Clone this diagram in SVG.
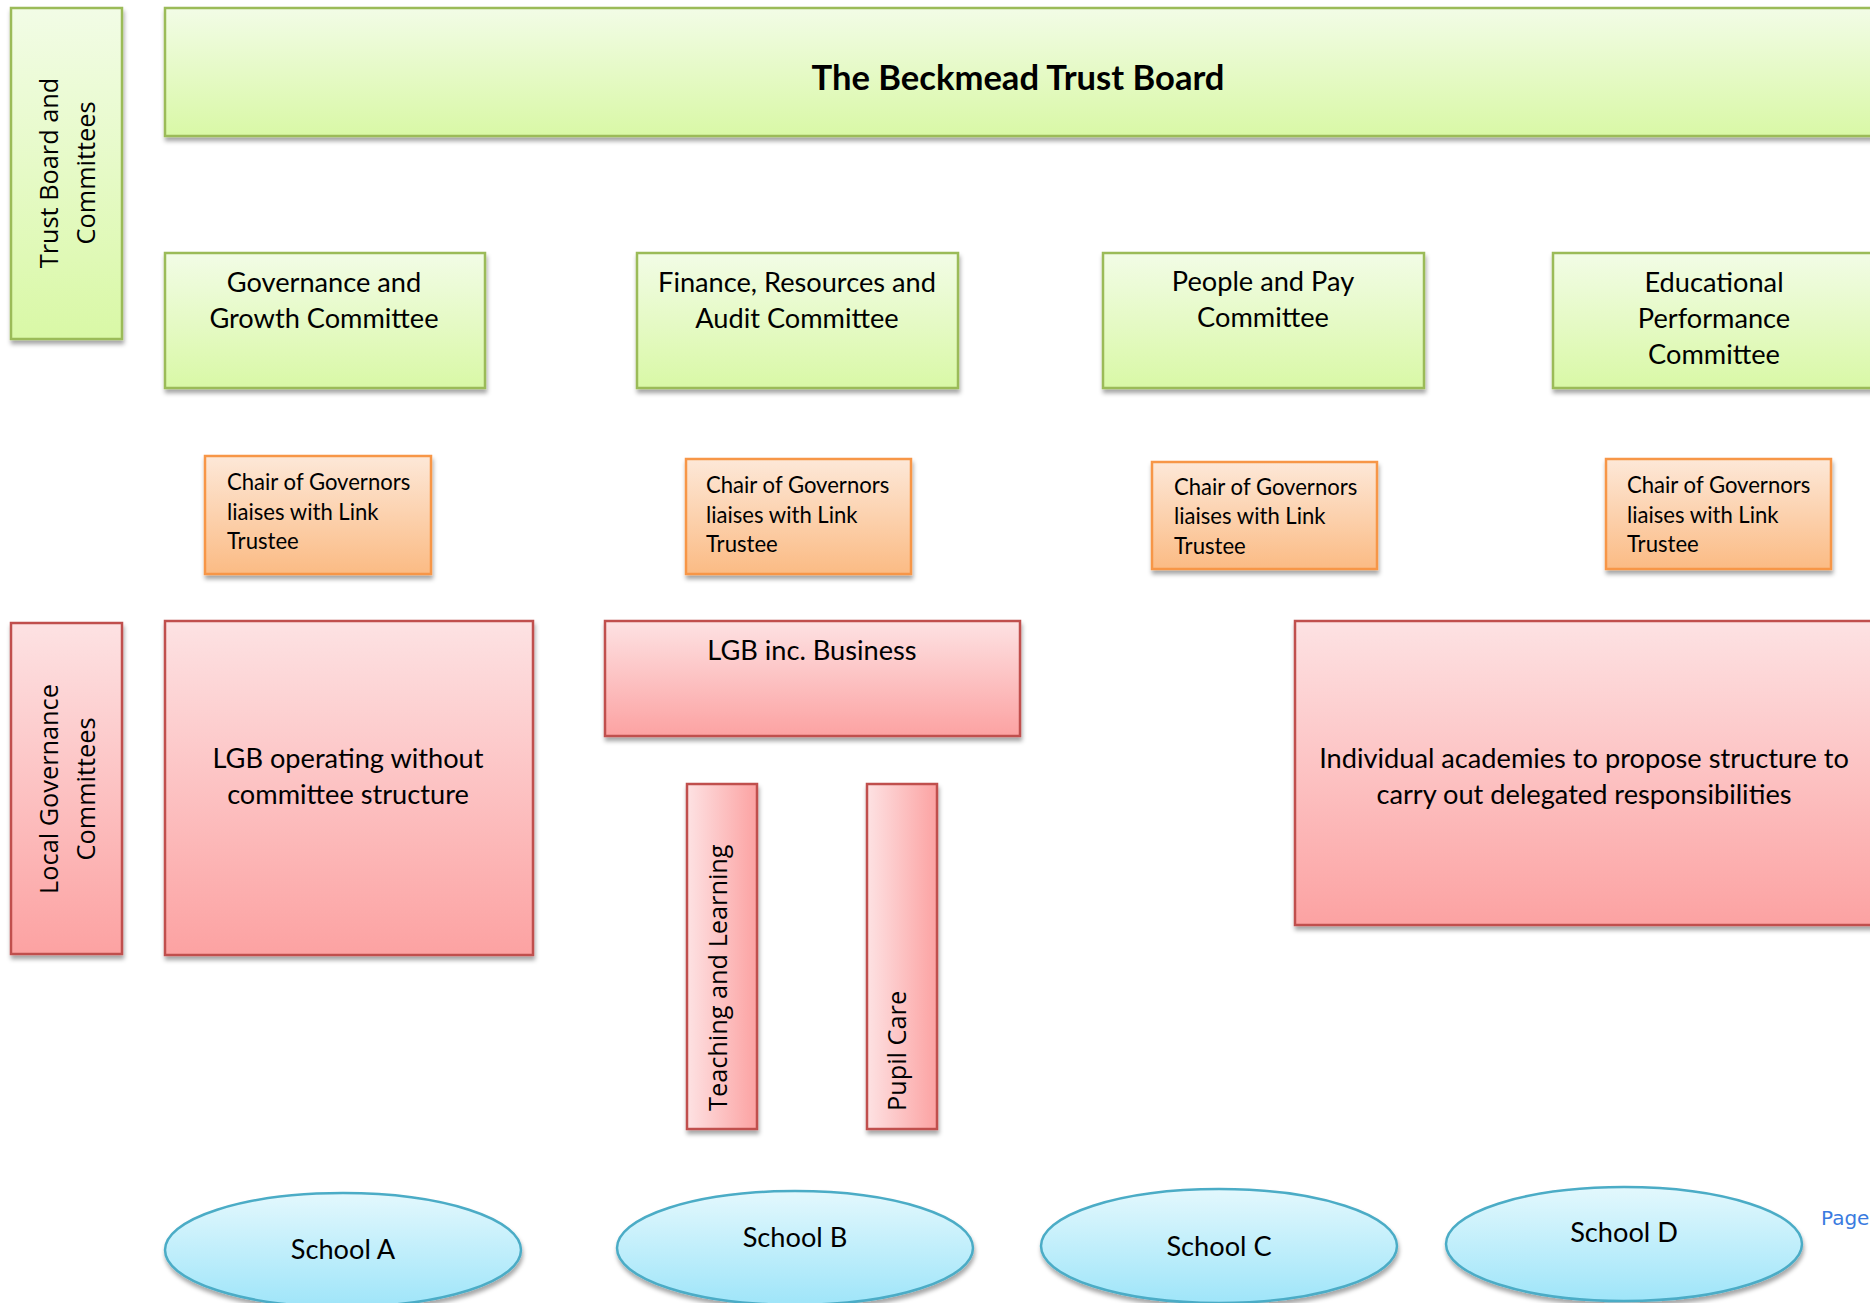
<svg xmlns="http://www.w3.org/2000/svg" width="1870" height="1303" viewBox="0 0 1870 1303">
<defs>
  <linearGradient id="gGreen" x1="0" y1="0" x2="0" y2="1">
    <stop offset="0" stop-color="#f2fce6"/><stop offset="1" stop-color="#d9f8a6"/>
  </linearGradient>
  <linearGradient id="gOrange" x1="0" y1="0" x2="0" y2="1">
    <stop offset="0" stop-color="#fde8d8"/><stop offset="1" stop-color="#fbbb84"/>
  </linearGradient>
  <linearGradient id="gPink" x1="0" y1="0" x2="0" y2="1">
    <stop offset="0" stop-color="#fde2e3"/><stop offset="1" stop-color="#fca2a2"/>
  </linearGradient>
  <linearGradient id="gPinkH" x1="0" y1="0" x2="1" y2="0">
    <stop offset="0" stop-color="#fde2e3"/><stop offset="1" stop-color="#fca2a2"/>
  </linearGradient>
  <linearGradient id="gBlue" x1="0" y1="0" x2="0" y2="1">
    <stop offset="0" stop-color="#e3f8fd"/><stop offset="1" stop-color="#9fe5f9"/>
  </linearGradient>
  <filter id="sh" x="-10%" y="-10%" width="120%" height="130%">
    <feDropShadow dx="1" dy="4" stdDeviation="2" flood-color="#000" flood-opacity="0.35"/>
  </filter>
</defs>
<style>
  .green{fill:url(#gGreen);stroke:#9bbb59;stroke-width:2.5}
  .orange{fill:url(#gOrange);stroke:#f79646;stroke-width:2.5}
  .pink{fill:url(#gPink);stroke:#c0504d;stroke-width:2.5}
  .pinkh{fill:url(#gPinkH);stroke:#c0504d;stroke-width:2.5}
  .blue{fill:url(#gBlue);stroke:#4bacc6;stroke-width:2.5}
  .t{font-family:Lato,"Liberation Sans",sans-serif;font-size:27.2px;fill:#000;text-anchor:middle}
  .s{font-family:Lato,"Liberation Sans",sans-serif;font-size:22.1px;fill:#000}
  .v{font-family:"Open Sans","DejaVu Sans",sans-serif;font-size:25.3px;fill:#000;text-anchor:middle}
  .b{font-family:Lato,"Liberation Sans",sans-serif;font-size:34.6px;font-weight:bold;fill:#000;text-anchor:middle}
</style>
<rect width="1870" height="1303" fill="#fff"/>

<g id="label-trust">
  <rect class="green" x="11" y="8" width="111" height="331" filter="url(#sh)"/>
  <text class="v" transform="translate(58,173) rotate(-90)">Trust Board and</text>
  <text class="v" transform="translate(95,173) rotate(-90)">Committees</text>
</g>
<g id="board">
  <rect class="green" x="165" y="8" width="1720" height="128" filter="url(#sh)"/>
  <text class="b" x="1018" y="90">The Beckmead Trust Board</text>
</g>

<g id="c-governance">
  <rect class="green" x="165" y="253" width="320" height="135" filter="url(#sh)"/>
  <text class="t" x="324" y="292">Governance and</text>
  <text class="t" x="324" y="328">Growth Committee</text>
</g>
<g id="c-finance">
  <rect class="green" x="637" y="253" width="321" height="135" filter="url(#sh)"/>
  <text class="t" x="797" y="292">Finance, Resources and</text>
  <text class="t" x="797" y="328">Audit Committee</text>
</g>
<g id="c-people">
  <rect class="green" x="1103" y="253" width="321" height="135" filter="url(#sh)"/>
  <text class="t" x="1263" y="291">People and Pay</text>
  <text class="t" x="1263" y="327">Committee</text>
</g>
<g id="c-education">
  <rect class="green" x="1553" y="253" width="330" height="135" filter="url(#sh)"/>
  <text class="t" x="1714" y="292">Educational</text>
  <text class="t" x="1714" y="328">Performance</text>
  <text class="t" x="1714" y="364">Committee</text>
</g>

<g id="chair-1">
  <rect class="orange" x="205" y="456" width="226" height="118" filter="url(#sh)"/>
  <text class="s" x="227" y="490">Chair of Governors</text>
  <text class="s" x="227" y="520">liaises with Link</text>
  <text class="s" x="227" y="549">Trustee</text>
</g>
<g id="chair-2">
  <rect class="orange" x="686" y="459" width="225" height="115" filter="url(#sh)"/>
  <text class="s" x="706" y="493">Chair of Governors</text>
  <text class="s" x="706" y="523">liaises with Link</text>
  <text class="s" x="706" y="552">Trustee</text>
</g>
<g id="chair-3">
  <rect class="orange" x="1152" y="462" width="225" height="107" filter="url(#sh)"/>
  <text class="s" x="1174" y="495">Chair of Governors</text>
  <text class="s" x="1174" y="524">liaises with Link</text>
  <text class="s" x="1174" y="554">Trustee</text>
</g>
<g id="chair-4">
  <rect class="orange" x="1606" y="459" width="225" height="110" filter="url(#sh)"/>
  <text class="s" x="1627" y="493">Chair of Governors</text>
  <text class="s" x="1627" y="523">liaises with Link</text>
  <text class="s" x="1627" y="552">Trustee</text>
</g>

<g id="label-local">
  <rect class="pink" x="11" y="623" width="111" height="331" filter="url(#sh)"/>
  <text class="v" transform="translate(58,789) rotate(-90)">Local Governance</text>
  <text class="v" transform="translate(95,789) rotate(-90)">Committees</text>
</g>
<g id="lgb-a">
  <rect class="pink" x="165" y="621" width="368" height="334" filter="url(#sh)"/>
  <text class="t" x="348" y="768">LGB operating without</text>
  <text class="t" x="348" y="804">committee structure</text>
</g>
<g id="lgb-b">
  <rect class="pink" x="605" y="621" width="415" height="115" filter="url(#sh)"/>
  <text class="t" x="812" y="660">LGB inc. Business</text>
</g>
<g id="lgb-cd">
  <rect class="pink" x="1295" y="621" width="590" height="304" filter="url(#sh)"/>
  <text class="t" x="1584" y="768">Individual academies to propose structure to</text>
  <text class="t" x="1584" y="804">carry out delegated responsibilities</text>
</g>
<g id="teaching">
  <rect class="pinkh" x="687" y="784" width="70" height="345" filter="url(#sh)"/>
  <text class="v" style="text-anchor:start" transform="translate(727,1111) rotate(-90)">Teaching and Learning</text>
</g>
<g id="pupil">
  <rect class="pinkh" x="867" y="784" width="70" height="345" filter="url(#sh)"/>
  <text class="v" style="text-anchor:start" transform="translate(906,1111) rotate(-90)">Pupil Care</text>
</g>

<g id="school-a">
  <ellipse class="blue" cx="343" cy="1250" rx="178" ry="57" filter="url(#sh)"/>
  <text class="t" x="343" y="1259">School A</text>
</g>
<g id="school-b">
  <ellipse class="blue" cx="795" cy="1248" rx="178" ry="57" filter="url(#sh)"/>
  <text class="t" x="795" y="1247">School B</text>
</g>
<g id="school-c">
  <ellipse class="blue" cx="1219" cy="1246" rx="178" ry="57" filter="url(#sh)"/>
  <text class="t" x="1219" y="1256">School C</text>
</g>
<g id="school-d">
  <ellipse class="blue" cx="1624" cy="1244" rx="178" ry="57" filter="url(#sh)"/>
  <text class="t" x="1624" y="1242">School D</text>
</g>

<g id="connectors"></g>

<text x="1821" y="1225" style="font-family:'DejaVu Sans',sans-serif;font-size:20px;fill:#3a7be0">Page</text>
</svg>
